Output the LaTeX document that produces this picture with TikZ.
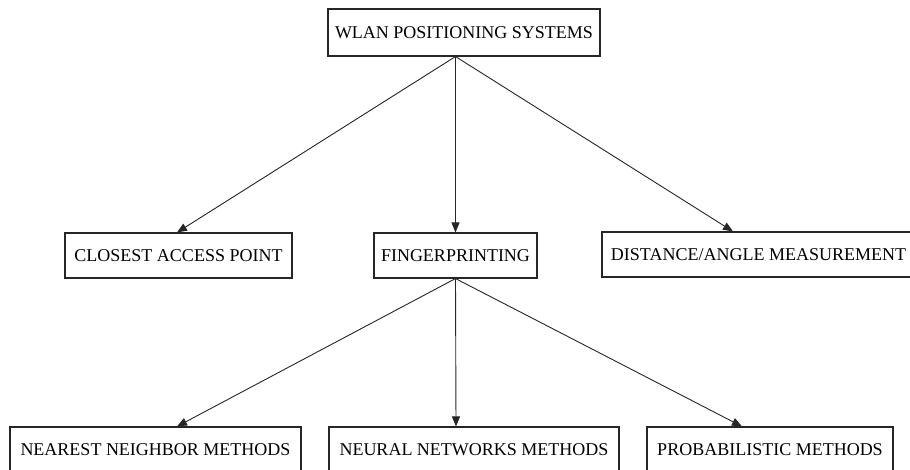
\documentclass[tikz,border=0pt]{standalone}
\usepackage{fontspec}
\setmainfont{Liberation Serif}
\usetikzlibrary{arrows.meta}
\begin{document}
\begin{tikzpicture}[x=1pt,y=-1pt,
  box/.style={draw=black!85, line width=1.1pt, inner sep=0pt, align=center,
    font=\fontsize{18}{21}\selectfont},
  arr/.style={draw=black!85, line width=0.9pt, -{Triangle[length=10pt,width=8pt]}}]
\useasboundingbox (0,0) rectangle (910,470);
\clip (0,0) rectangle (910,470);
\fill[white] (0,0) rectangle (910,470);
\node[box, minimum width=272pt, minimum height=47pt] (top) at (464,32.5) {WLAN POSITIONING SYSTEMS};
\node[box, minimum width=227pt, minimum height=45pt] (closest) at (178.5,255.5) {CLOSEST ACCESS POINT};
\node[box, minimum width=163pt, minimum height=45pt] (fp) at (455.5,255.5) {FINGERPRINTING};
\node[box, minimum width=313pt, minimum height=45pt] (dist) at (758.5,254.5) {DISTANCE/ANGLE MEASUREMENT};
\node[box, minimum width=291pt, minimum height=45pt] (nearest) at (155.5,449.5) {NEAREST NEIGHBOR METHODS};
\node[box, minimum width=290pt, minimum height=45pt] (neural) at (474,449.5) {NEURAL NETWORKS METHODS};
\node[box, minimum width=246pt, minimum height=45pt] (prob) at (770,449.5) {PROBABILISTIC METHODS};
\coordinate (ts) at (top.south -| fp.north);
\draw[arr] (ts) -- ([xshift=-1.5pt]closest.north);
\draw[arr] (ts) -- (fp.north);
\draw[arr] (ts) -- ([xshift=-25.5pt]dist.north);
\draw[arr] (fp.south) -- ([xshift=21.5pt]nearest.north);
\draw[arr] (fp.south) -- ([xshift=-18pt]neural.north);
\draw[arr] (fp.south) -- ([xshift=-28pt]prob.north);
\end{tikzpicture}
\end{document}
